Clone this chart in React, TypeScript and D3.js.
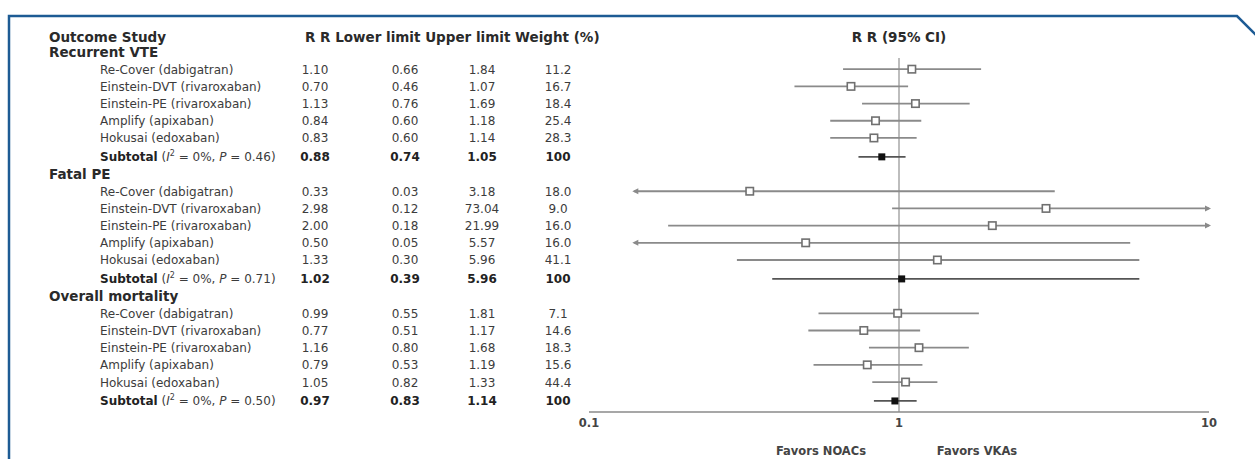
import React from "react";
import * as d3 from "d3";

// outcome groups and trials
const outcomes = ["Recurrent VTE", "Fatal PE", "Overall mortality"];
const studies = [
  "Re-Cover (dabigatran)",
  "Einstein-DVT (rivaroxaban)",
  "Einstein-PE (rivaroxaban)",
  "Amplify (apixaban)",
  "Hokusai (edoxaban)",
];

// last entry of each array = subtotal
const rrVte = [1.1, 0.7, 1.13, 0.84, 0.83, 0.88];
const lowVte = [0.66, 0.46, 0.76, 0.6, 0.6, 0.74];
const upVte = [1.84, 1.07, 1.69, 1.18, 1.14, 1.05];
const wtVte = [11.2, 16.7, 18.4, 25.4, 28.3, 100];

const rrPe = [0.33, 2.98, 2.0, 0.5, 1.33, 1.02];
const lowPe = [0.03, 0.12, 0.18, 0.05, 0.3, 0.39];
const upPe = [3.18, 73.04, 21.99, 5.57, 5.96, 5.96];
const wtPe = [18.0, 9.0, 16.0, 16.0, 41.1, 100];
// where the CI line is actually drawn from in the figure
const lowPeDrawn = [0.03, 0.95, 0.18, 0.05, 0.3, 0.39];

const rrMort = [0.99, 0.77, 1.16, 0.79, 1.05, 0.97];
const lowMort = [0.55, 0.51, 0.8, 0.53, 0.82, 0.83];
const upMort = [1.81, 1.17, 1.68, 1.19, 1.33, 1.14];
const wtMort = [7.1, 14.6, 18.3, 15.6, 44.4, 100];

const hetI2 = ["0%", "0%", "0%"];
const hetP = ["0.46", "0.71", "0.50"];

const axisTicks = [0.1, 1, 10];
const clipLow = 0.14; // lines below this end in an arrow
const clipHigh = 10;

const groups = [
  { rr: rrVte, lo: lowVte, up: upVte, wt: wtVte, loDrawn: lowVte },
  { rr: rrPe, lo: lowPe, up: upPe, wt: wtPe, loDrawn: lowPeDrawn },
  { rr: rrMort, lo: lowMort, up: upMort, wt: wtMort, loDrawn: lowMort },
];

const FONT = "'DejaVu Sans', sans-serif";
const TEXT = "#3c3c3c";
const LINE = "#8a8a8a";

export default function App() {
  const x = d3.scaleLog().domain([0.1, 10]).range([589, 1209]);

  // vertical layout
  const unit = 17.19;
  const firstHeading = 52;
  const rows: any[] = [];
  const headings: { label: string; y: number }[] = [];
  let y = firstHeading;
  groups.forEach((g, gi) => {
    headings.push({ label: outcomes[gi], y });
    for (let i = 0; i < 5; i++) {
      y += unit;
      rows.push({ label: studies[i], y, g, i, sub: false, gi });
    }
    y += unit * 1.1;
    rows.push({ label: "Subtotal", y, g, i: 5, sub: true, gi });
    y += unit;
  });

  const axisY = 412;
  const labelX = 100;
  const colRR = 315,
    colLo = 405,
    colUp = 482,
    colWt = 558;

  const arrow = (px: number, py: number, dir: number, fill: string) => (
    <path
      d={`M${px},${py} L${px - dir * 6},${py - 3} L${px - dir * 6},${py + 3} Z`}
      fill={fill}
    />
  );

  return (
    <svg
      width={1255}
      height={459}
      style={{ position: "absolute", left: 0, top: 0, background: "#fff" }}
      fontFamily={FONT}
    >
      {/* frame */}
      <path
        d="M9,459 L9,16 L1237,16 L1256,35"
        fill="none"
        stroke="#1d5b94"
        strokeWidth={2.5}
      />

      {/* column headers */}
      <g fontWeight="bold" fontSize={13.5} fill="#2a2a2a">
        <text x={49} y={42}>Outcome Study</text>
        <text x={305} y={42}>R R Lower limit Upper limit Weight (%)</text>
        <text x={x(1)} y={42} textAnchor="middle">R R (95% CI)</text>
      </g>

      {headings.map((h) => (
        <text
          key={h.label}
          x={49}
          y={h.y + 5}
          fontWeight="bold"
          fontSize={13.5}
          fill="#2a2a2a"
        >
          {h.label}
        </text>
      ))}

      {/* table rows */}
      {rows.map((r, k) => {
        const g = r.g;
        const ty = r.y + 4.5;
        const wt = r.sub ? "100" : g.wt[r.i].toFixed(1);
        return (
          <g
            key={k}
            fontSize={12}
            fill={r.sub ? "#222" : TEXT}
            fontWeight={r.sub ? "bold" : "normal"}
          >
            {r.sub ? (
              <text x={labelX} y={ty}>
                Subtotal
                <tspan fontWeight="normal" fill={TEXT}>
                  {" ("}
                  <tspan fontStyle="italic">I</tspan>
                  <tspan fontSize={8} dy={-5}>2</tspan>
                  <tspan dy={5}> = {hetI2[r.gi]}, </tspan>
                  <tspan fontStyle="italic">P</tspan> = {hetP[r.gi]})
                </tspan>
              </text>
            ) : (
              <text x={labelX} y={ty}>{r.label}</text>
            )}
            <text x={colRR} y={ty} textAnchor="middle">{g.rr[r.i].toFixed(2)}</text>
            <text x={colLo} y={ty} textAnchor="middle">{g.lo[r.i].toFixed(2)}</text>
            <text x={colUp} y={ty} textAnchor="middle">{g.up[r.i].toFixed(2)}</text>
            <text x={colWt} y={ty} textAnchor="middle">{wt}</text>
          </g>
        );
      })}

      {/* reference line at RR = 1 */}
      <line x1={x(1)} x2={x(1)} y1={58} y2={axisY} stroke="#9a9a9a" strokeWidth={1.3} />

      {/* CI lines and markers */}
      {rows.map((r, k) => {
        const g = r.g;
        const lo = g.loDrawn[r.i];
        const up = g.up[r.i];
        const col = r.sub ? "#555" : LINE;
        const x1 = x(Math.max(lo, clipLow));
        const x2 = x(Math.min(up, clipHigh));
        const cx = x(g.rr[r.i]);
        return (
          <g key={"ci" + k}>
            <line x1={x1} x2={x2} y1={r.y} y2={r.y} stroke={col} strokeWidth={1.8} />
            {lo < clipLow && arrow(x1 - 2, r.y, -1, col)}
            {up > clipHigh && arrow(x2 + 2, r.y, 1, col)}
            {r.sub ? (
              <rect x={cx - 3.5} y={r.y - 3.5} width={7} height={7} fill="#111" />
            ) : (
              <rect
                x={cx - 3.7}
                y={r.y - 3.7}
                width={7.4}
                height={7.4}
                fill="#fff"
                stroke="#707070"
                strokeWidth={1.6}
              />
            )}
          </g>
        );
      })}

      {/* x axis */}
      <line x1={x(0.1)} x2={x(10)} y1={axisY} y2={axisY} stroke="#8a8a8a" strokeWidth={1.6} />
      {axisTicks.map((t) => (
        <text
          key={t}
          x={x(t)}
          y={axisY + 15}
          textAnchor="middle"
          fontSize={11.5}
          fontWeight="bold"
          fill="#444"
        >
          {String(t)}
        </text>
      ))}
      <g fontSize={11.5} fontWeight="bold" fill="#444" textAnchor="middle">
        <text x={x(1) - 78} y={455}>Favors NOACs</text>
        <text x={x(1) + 78} y={455}>Favors VKAs</text>
      </g>
    </svg>
  );
}
